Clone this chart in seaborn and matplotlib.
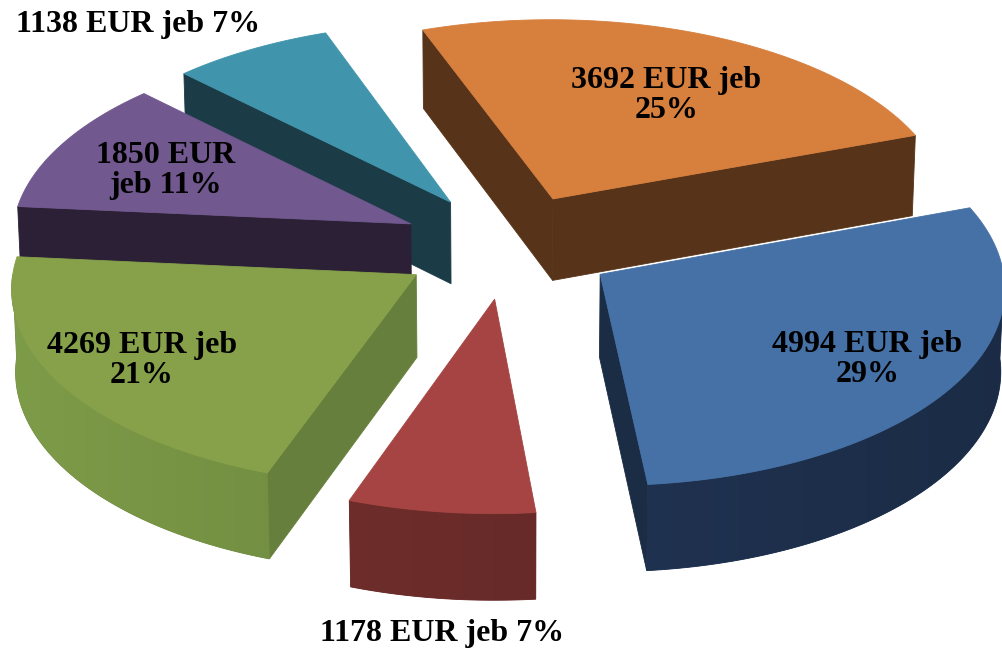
import numpy as np
import matplotlib
matplotlib.use("Agg")
import matplotlib.pyplot as plt
import matplotlib.colors as mcolors
from matplotlib.patches import Polygon
import seaborn as sns

# slice data, clockwise from the top-left edge
amounts = [3692, 4994, 1178, 4269, 1850, 1138]
shares = [25, 29, 7, 21, 11, 7]
label_fmt = ["{a} EUR jeb\n{p}%", "{a} EUR jeb\n{p}%", "{a} EUR jeb {p}%",
             "{a} EUR jeb\n{p}%", "{a} EUR\njeb {p}%", "{a} EUR jeb {p}%"]
top_colors = ["#D77F3D", "#4571A6", "#A54442", "#87A14A", "#71588F", "#4095AD"]
face_colors = ["#573419", "#1B2C45", "#5E2523", "#677F3C", "#2B2035", "#1B3B47"]
wall_colors = ["#573419", "#1F3250", "#692B29", "#6F8A40", "#2B2035", "#1B3B47"]

# label placement: radius fraction, angle shift (deg), on top (0) or below the wall (1)
lab_frac = [0.64, 0.765, 1.15, 0.78, 0.69, 1.3]
lab_shift = [-3, -1, 1, 0, 1, 8]
lab_below = [0, 0, 1, 0, 0, 0]

sns.set_theme(style="white")

# view settings (pixel units)
cx, cy = 508, 246
R = 400
explode = 108
depth = 95
sin_e = 0.488
cos_e = np.sqrt(1 - sin_e ** 2)
D = 5890
start = 110


def project(x, y, z):
    w = y * cos_e - z * sin_e
    u = y * sin_e + z * cos_e
    s = D / (D + w)
    return cx + x * s, cy - u * s


def shade(col, f):
    rgb = np.array(mcolors.to_rgb(col)) * f
    return np.clip(rgb, 0, 1)


fig = plt.figure(figsize=(10.03, 6.48), dpi=100)
ax = fig.add_axes([0, 0, 1, 1])
ax.set_xlim(0, 1003)
ax.set_ylim(648, 0)
ax.axis("off")

slices = []
cum = 0
for i, p in enumerate(shares):
    t1 = start - cum * 3.6
    t2 = t1 - p * 3.6
    cum += p
    mid = np.radians((t1 + t2) / 2)
    ox, oy = explode * np.cos(mid), explode * np.sin(mid)
    slices.append((i, np.radians(t1), np.radians(t2), ox, oy))

zo = 1
# far slices first
for i, a1, a2, ox, oy in sorted(slices, key=lambda s: -s[4]):
    ts = np.linspace(a1, a2, 200)

    # radial faces facing the viewer
    for a, vis in [(a1, np.cos(a1) < 0), (a2, np.cos(a2) > 0)]:
        if not vis:
            continue
        px, py = ox + R * np.cos(a), oy + R * np.sin(a)
        pts = [project(ox, oy, 0), project(px, py, 0),
               project(px, py, -depth), project(ox, oy, -depth)]
        ax.add_patch(Polygon(pts, closed=True, fc=face_colors[i],
                             ec=face_colors[i], lw=0.6, zorder=zo))
        zo += 1

    # curved outer wall, front half only, shaded left to right
    tw = ts[np.sin(ts) < 0]
    if len(tw) > 1:
        ex = ox + R * np.cos(tw)
        ey = oy + R * np.sin(tw)
        top = [project(x, y, 0) for x, y in zip(ex, ey)]
        bot = [project(x, y, -depth) for x, y in zip(ex, ey)]
        wall = Polygon(top + bot[::-1], closed=True, fc=wall_colors[i],
                       ec=wall_colors[i], lw=0.6, zorder=zo)
        ax.add_patch(wall)
        zo += 1
        xs = np.array([pt[0] for pt in top + bot])
        ys = np.array([pt[1] for pt in top + bot])
        # colour per column from the wall angle under it
        cols = np.linspace(xs.min(), xs.max(), 300)
        txs = np.array([pt[0] for pt in top])
        order = np.argsort(txs)
        ang = np.interp(cols, txs[order], tw[order])
        grad = np.array([shade(wall_colors[i], 1 - 0.13 * np.cos(t)) for t in ang])
        im = ax.imshow(grad[np.newaxis, :, :], extent=(xs.min(), xs.max(), ys.max(), ys.min()),
                       aspect="auto", interpolation="bilinear", zorder=zo)
        im.set_clip_path(wall)
        zo += 1

    # top face
    ex = ox + R * np.cos(ts)
    ey = oy + R * np.sin(ts)
    pts = [project(ox, oy, 0)] + [project(x, y, 0) for x, y in zip(ex, ey)]
    ax.add_patch(Polygon(pts, closed=True, fc=top_colors[i],
                         ec=top_colors[i], lw=0.6, zorder=zo))
    zo += 1

ax.set_xlim(0, 1003)
ax.set_ylim(648, 0)

# labels
for i, a1, a2, ox, oy in slices:
    m = (a1 + a2) / 2 + np.radians(lab_shift[i])
    f = lab_frac[i]
    z = -depth * lab_below[i]
    lx, ly = project(ox + f * R * np.cos(m), oy + f * R * np.sin(m), z)
    txt = label_fmt[i].format(a=amounts[i], p=shares[i])
    ax.text(lx, ly, txt, ha="center", va="center", fontsize=23,
            fontweight="bold", family=["Liberation Serif", "DejaVu Serif"],
            linespacing=1.05, color="black", zorder=zo + 1)

fig.savefig("out.png", dpi=100, facecolor="white")
